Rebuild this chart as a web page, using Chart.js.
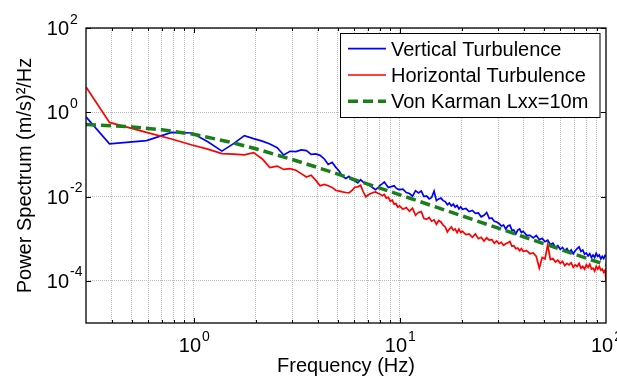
<!DOCTYPE html>
<html>
<head>
<meta charset="utf-8">
<script src="https://cdn.jsdelivr.net/npm/chart.js@4.4.0/dist/chart.umd.min.js"></script>
<style>
  html, body { margin: 0; padding: 0; background: #fff; }
</style>
</head>
<body>
<canvas id="psd" width="617" height="378"></canvas>
<script>
// frequency bins (Hz), shared by both measured spectra
const freq = [
  0.3, 0.39, 0.59, 0.78, 0.98, 1.17, 1.37, 1.56, 1.76, 1.95,
  2.15, 2.34, 2.54, 2.73, 2.93, 3.13, 3.32, 3.52, 3.71, 3.91,
  4.10, 4.30, 4.49, 4.69, 4.88, 5.08, 5.27, 5.47, 5.66, 5.86,
  6.05, 6.25, 6.45, 6.64, 6.84, 7.03, 7.23, 7.42, 7.62, 7.81,
  8.01, 8.20, 8.40, 8.59, 8.79, 8.98, 9.18, 9.38, 9.57, 9.77, 9.96,
  10.35, 10.74, 11.13, 11.52, 11.91, 12.30, 12.70, 13.09, 13.48, 13.87,
  14.26, 14.65, 15.04, 15.43, 15.82, 16.21, 16.60, 16.99, 17.38, 17.77,
  18.16, 18.55, 18.95, 19.34, 19.73, 20.12,
  20.90, 21.68, 22.46, 23.24, 24.02, 24.80, 25.59, 26.37, 27.15, 27.93,
  28.71, 29.49, 30.27, 31.05, 31.84, 32.62, 33.40, 34.18, 34.96, 35.74,
  36.52, 37.30, 38.09, 38.87, 39.65,
  41.21, 42.77, 44.34, 45.90, 47.46, 49.02, 50.59, 52.15, 53.71, 55.27,
  56.84, 58.40, 59.96, 61.52, 63.09, 64.65, 66.21, 67.77, 69.34, 70.90,
  72.46, 74.02, 75.59, 77.15, 78.71, 80.27, 81.84, 83.40, 84.96, 86.52,
  88.09, 89.65, 91.21, 92.77, 94.34, 95.90, 97.46, 99.02, 100.0
];

const vertical = [
  0.78, 0.178, 0.213, 0.334, 0.323, 0.20, 0.12, 0.18, 0.279, 0.237,
  0.207, 0.176, 0.145, 0.097, 0.119, 0.117, 0.128, 0.123, 0.10, 0.103,
  0.095, 0.078, 0.058, 0.065, 0.05, 0.04, 0.030, 0.027, 0.030, 0.025,
  0.0233, 0.021, 0.025, 0.022, 0.020, 0.019, 0.0175, 0.016, 0.0146, 0.016,
  0.0184, 0.020, 0.0221, 0.019, 0.0164, 0.017, 0.0175, 0.018, 0.016, 0.015, 0.0146,
  0.0150, 0.0125, 0.0118, 0.0102, 0.0138, 0.0122, 0.0135, 0.0100, 0.0104, 0.0088,
  0.0095, 0.0135, 0.0080, 0.0088, 0.0092, 0.0080, 0.0076, 0.0064, 0.0070, 0.0060,
  0.0066, 0.0056, 0.0062, 0.0051, 0.0057, 0.0050,
  0.0052, 0.0044, 0.0047, 0.0040, 0.0041, 0.0033, 0.0036, 0.0042, 0.0030, 0.0031,
  0.0026, 0.0025, 0.0023, 0.0020, 0.0021, 0.0017, 0.0020, 0.0021, 0.0016, 0.0016,
  0.0013, 0.0016, 0.0017, 0.0014, 0.0015,
  0.0012, 0.0012, 0.00105, 0.0012, 0.00095, 0.00102, 0.00085, 0.00092, 0.00072, 0.00078,
  0.00062, 0.00068, 0.00056, 0.00062, 0.00052, 0.00058, 0.00048, 0.00054, 0.00044, 0.00052,
  0.00058, 0.00064, 0.00050, 0.00054, 0.00043, 0.00046, 0.00039, 0.00044, 0.00036, 0.00041,
  0.00036, 0.00045, 0.00038, 0.00041, 0.00033, 0.00038, 0.00034, 0.00040, 0.00038
];

const horizontal = [
  4.0, 0.575, 0.334, 0.233, 0.167, 0.134, 0.105, 0.102, 0.098, 0.11,
  0.078, 0.049, 0.053, 0.044, 0.046, 0.042, 0.035, 0.029, 0.032, 0.0242,
  0.018, 0.0195, 0.018, 0.0165, 0.0141, 0.0135, 0.0129, 0.0125, 0.0122, 0.014,
  0.0167, 0.017, 0.0185, 0.013, 0.0098, 0.011, 0.0118, 0.0125, 0.0129, 0.012,
  0.0114, 0.0105, 0.0112, 0.0092, 0.0096, 0.0078, 0.0082, 0.0066, 0.0068, 0.0056, 0.0060,
  0.0050, 0.0055, 0.0045, 0.0053, 0.0036, 0.0042, 0.0044, 0.0030, 0.0029, 0.0032,
  0.0026, 0.0028, 0.0022, 0.0027, 0.0025, 0.0021, 0.0019, 0.00145, 0.0017, 0.0019,
  0.0016, 0.0017, 0.0014, 0.0017, 0.0014, 0.0015,
  0.00125, 0.0013, 0.00108, 0.0013, 0.00100, 0.00108, 0.00088, 0.00105, 0.00092, 0.00096,
  0.00078, 0.00088, 0.00076, 0.00082, 0.00070, 0.00076, 0.00080, 0.00086, 0.00066, 0.00068,
  0.00058, 0.00060, 0.00052, 0.00058, 0.00050,
  0.00052, 0.00044, 0.00046, 0.00038, 0.00020, 0.00036, 0.00033, 0.00072, 0.00032, 0.00034,
  0.00028, 0.00031, 0.00026, 0.00029, 0.00023, 0.00026, 0.00024, 0.00027, 0.00021, 0.00024,
  0.00022, 0.00026, 0.00020, 0.00022, 0.00019, 0.00024, 0.00021, 0.00025, 0.00019, 0.00020,
  0.00017, 0.00022, 0.00019, 0.00022, 0.00018, 0.00019, 0.00016, 0.00018, 0.00010
];

// Von Karman model curve
const karmanFreq = [0.3, 0.5, 0.7, 1, 1.5, 2, 3, 4, 5, 7, 10, 15, 20, 30, 50, 70, 100];
const karman = [0.51, 0.45, 0.385, 0.30, 0.196, 0.136, 0.076, 0.0487, 0.0342, 0.0198,
  0.011, 0.00563, 0.00349, 0.00178, 0.00076, 0.000433, 0.00024];

const seriesNames = ['Vertical Turbulence', 'Horizontal Turbulence', 'Von Karman Lxx=10m'];

// grid / tick positions
const xGrid = [0.4, 0.5, 0.6, 0.7, 0.8, 0.9, 1, 2, 3, 4, 5, 6, 7, 8, 9, 10, 20, 30, 40, 50, 60, 70, 80, 90];
const yGrid = [1e-4, 1e-2, 1, 100];
const xLabelExp = [0, 1, 2];
const yLabelExp = [2, 0, -2, -4];

const FONT = '"Liberation Sans", Arial, Helvetica, sans-serif';
Chart.defaults.font.family = FONT;

const pts = (xs, ys) => xs.map((f, i) => ({ x: f, y: ys[i] }));

// draws the matlab style box, inward ticks, 10^n labels and the legend
const matlabFrame = {
  id: 'matlabFrame',
  afterDraw(chart) {
    const { ctx, chartArea: a } = chart;
    const xs = chart.scales.x, ys = chart.scales.y;
    ctx.save();

    ctx.strokeStyle = '#000';
    ctx.lineWidth = 1;
    ctx.beginPath();
    xGrid.forEach(v => {
      const px = Math.round(xs.getPixelForValue(v)) + 0.5;
      const len = Number.isInteger(Math.log10(v)) ? 5 : 3;
      ctx.moveTo(px, a.bottom); ctx.lineTo(px, a.bottom - len);
      ctx.moveTo(px, a.top); ctx.lineTo(px, a.top + len);
    });
    yGrid.forEach(v => {
      const py = Math.round(ys.getPixelForValue(v)) + 0.5;
      ctx.moveTo(a.left, py); ctx.lineTo(a.left + 5, py);
      ctx.moveTo(a.right, py); ctx.lineTo(a.right - 5, py);
    });
    ctx.stroke();
    ctx.lineWidth = 1.3;
    ctx.strokeRect(a.left, a.top, a.right - a.left, a.bottom - a.top);

    // tick labels
    ctx.fillStyle = '#000';
    ctx.textBaseline = 'alphabetic';
    ctx.textAlign = 'left';
    const big = '20px ' + FONT, small = '14px ' + FONT;
    xLabelExp.forEach(e => {
      const px = xs.getPixelForValue(Math.pow(10, e));
      ctx.font = big; const w1 = ctx.measureText('10').width;
      ctx.font = small; const w2 = ctx.measureText(String(e)).width;
      const x0 = px - (w1 + w2) / 2;
      ctx.font = big; ctx.fillText('10', x0, 352);
      ctx.font = small; ctx.fillText(String(e), x0 + w1 + 1, 341);
    });
    yLabelExp.forEach(e => {
      const py = ys.getPixelForValue(Math.pow(10, e));
      ctx.font = big;
      ctx.textAlign = 'right';
      ctx.fillText('10', 69, py + 7);
      ctx.font = small;
      ctx.textAlign = 'left';
      ctx.fillText(String(e), 70, py - 4.5);
    });

    // legend
    const lx = 340.5, ly = 33.5, lw = 259.5, lh = 84;
    ctx.fillStyle = '#fff';
    ctx.fillRect(lx, ly, lw, lh);
    ctx.strokeStyle = '#000';
    ctx.lineWidth = 1;
    ctx.strokeRect(lx, ly, lw, lh);
    ctx.font = big;
    ctx.textAlign = 'left';
    chart.data.datasets.forEach((ds, i) => {
      const base = 55.7 + i * 26.3;
      ctx.beginPath();
      ctx.strokeStyle = ds.borderColor;
      ctx.lineWidth = ds.borderWidth;
      ctx.setLineDash(ds.borderDash || []);
      ctx.moveTo(348, base - 7);
      ctx.lineTo(386, base - 7);
      ctx.stroke();
      ctx.setLineDash([]);
      ctx.fillStyle = '#000';
      ctx.fillText(ds.label, 391, base);
    });
    ctx.restore();
  }
};

new Chart(document.getElementById('psd'), {
  type: 'line',
  data: {
    datasets: [
      {
        label: seriesNames[0],
        data: pts(freq, vertical),
        borderColor: '#0000ff',
        borderWidth: 1.7,
        order: 2
      },
      {
        label: seriesNames[1],
        data: pts(freq, horizontal),
        borderColor: '#ff0000',
        borderWidth: 1.7,
        order: 1
      },
      {
        label: seriesNames[2],
        data: pts(karmanFreq, karman),
        borderColor: '#1a7f1a',
        borderWidth: 3.5,
        borderDash: [10, 5],
        order: 0
      }
    ]
  },
  options: {
    responsive: false,
    animation: false,
    layout: { padding: { top: 28, right: 11, left: 0, bottom: 0 } },
    elements: { point: { radius: 0 }, line: { tension: 0, fill: false } },
    plugins: { legend: { display: false }, tooltip: { enabled: false } },
    scales: {
      x: {
        type: 'logarithmic',
        min: 0.3,
        max: 100,
        afterBuildTicks: s => { s.ticks = xGrid.map(v => ({ value: v })); },
        afterFit: s => { s.height = 55; },
        ticks: { display: false },
        grid: { color: '#bcbcbc', lineWidth: 1, drawTicks: false },
        border: { display: false, dash: [1, 1] },
        title: {
          display: true, text: 'Frequency (Hz)', color: '#000',
          font: { size: 20 }, padding: { top: 0, bottom: 0 }
        }
      },
      y: {
        type: 'logarithmic',
        min: 1e-5,
        max: 100,
        afterBuildTicks: s => { s.ticks = yGrid.map(v => ({ value: v })); },
        afterFit: s => { s.width = 86; },
        ticks: { display: false },
        grid: { color: '#bcbcbc', lineWidth: 1, drawTicks: false },
        border: { display: false, dash: [1, 1] },
        title: {
          display: true, text: 'Power Spectrum (m/s)\u00B2/Hz', color: '#000',
          font: { size: 20 }, padding: { top: 13, bottom: 0 }
        }
      }
    }
  },
  plugins: [matlabFrame]
});
</script>
</body>
</html>
